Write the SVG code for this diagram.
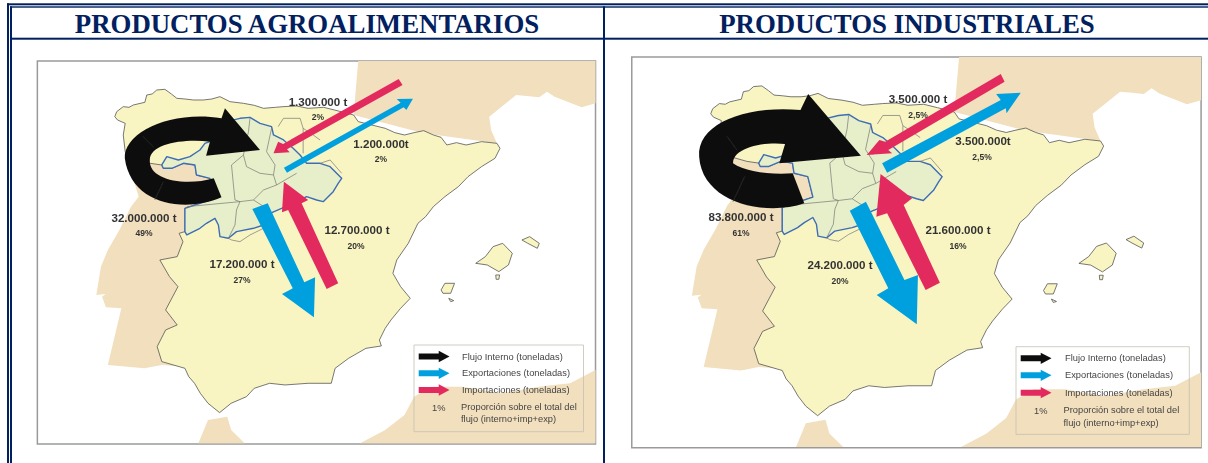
<svg xmlns="http://www.w3.org/2000/svg" width="1208" height="463" viewBox="0 0 1208 463">
<style>
.rule{fill:#002060}
.h{font:bold 26.8px "Liberation Serif",serif;fill:#002060;text-anchor:middle}
.v{font:bold 11.6px "Liberation Sans",sans-serif;fill:#333;text-anchor:middle}
.p{font:bold 8.5px "Liberation Sans",sans-serif;fill:#333;text-anchor:middle}
.l{font:9.3px "Liberation Sans",sans-serif;fill:#444}
.frame{fill:#fff;stroke:#9a9a9a;stroke-width:1.5;vector-effect:non-scaling-stroke}
.sea{fill:#f2dfbd}
.land{fill:#f8f5c2;stroke:#555;stroke-width:.8;vector-effect:non-scaling-stroke;stroke-linejoin:round}
.cyl{fill:#e6efc9;stroke:#3d6db5;stroke-width:1.4;vector-effect:non-scaling-stroke;stroke-linejoin:round}
.prov{fill:none;stroke:#777;stroke-width:.7;vector-effect:non-scaling-stroke}
.seam{fill:none;stroke:#333;stroke-width:.6;vector-effect:non-scaling-stroke}
.box{fill:none;stroke:#c4c0b4;stroke-width:.8;vector-effect:non-scaling-stroke}
.k{fill:#111}.b{fill:#069fdd}.r{fill:#e32b5e}
.soft{filter:url(#soft)}
</style>
<defs>
<filter id="soft" x="-2%" y="-2%" width="104%" height="104%"><feGaussianBlur stdDeviation=".35"/></filter>
<g id="base">
<rect class="frame" x="97" y="183" width="1449" height="1149"/>
<path class="sea" d="M930,183L1546,183 1546,310 1510,322 1440,290 1420,275 1400,292 1340,285 1270,350 1275,390 1290,430 1100,400 918,345Z"/>
<path class="sea" d="M329,470L600,500 600,650 480,800 480,1100 420,1095 375,1105 280,1095 315,925 275,922 265,890 298,860 290,880 250,885 262,800 280,750 310,690 340,620 360,590Z"/>
<path class="sea" d="M515,1330L540,1260 590,1250 600,1290 635,1330Z"/>
<path class="sea" d="M935,1330L1000,1290 1050,1245 1075,1190 1120,1160 1200,1160 1300,1180 1400,1160 1480,1150 1546,1110 1546,1330Z"/>
<path class="land" d="M298,350L303,335 320,320 335,322 346,315 376,307 381,285 395,282 407,270 428,268 445,282 459,295 480,297 502,300 528,300 550,297 571,290 597,305 632,310 660,316 684,325 715,322 735,320 770,318 800,325 840,322 875,332 918,345 930,365 965,375 1000,385 1025,398 1050,405 1075,398 1100,392 1125,405 1145,412 1160,435 1185,428 1210,435 1250,425 1290,430 1298,445 1285,475 1250,500 1215,530 1190,560 1155,590 1125,620 1105,650 1085,670 1060,730 1030,780 1020,820 1040,860 1065,895 1040,925 1015,960 1000,985 985,1020 990,1038 950,1045 905,1075 870,1105 860,1150 800,1150 740,1155 700,1150 660,1165 640,1190 600,1210 570,1238 540,1210 520,1180 505,1150 490,1130 480,1105 420,1085 408,1040 430,990 460,975 430,930 462,860 440,830 415,780 460,770 475,725 465,700 480,695 480,625 558,595 545,535 510,525 506,495 476,490 446,505 424,505 420,495 390,490 329,470 325,455 320,405 325,370 305,360Z"/>
<path class="cyl" d="M623,355L649,352 675,370 705,380 710,405 736,420 761,445 779,465 796,490 831,490 857,500 887,535 878,550 865,575 839,605 822,600 796,590 731,625 701,640 684,675 658,685 614,695 593,715 571,710 567,675 558,655 536,670 519,685 485,705 480,695 480,625 558,595 545,535 510,525 506,495 476,490 446,505 424,505 420,495 433,470 463,480 493,470 519,450 532,430 545,425 588,365Z"/>
<path class="prov" d="M649,355L645,395 632,465 601,495 606,555 610,600 623,605 614,630 610,675 593,715M632,465L640,500 675,520 710,525 718,555 684,570 658,600 623,605 485,620M658,600L692,625M705,385L692,455 714,495 710,525M722,380L736,355 779,355 787,385 813,405 831,420M787,385L787,460M770,520L718,555M831,490L857,480 887,520M601,720L623,725 649,705 684,685M593,715L601,720"/>
<path class="land" d="M1235,790L1260,770 1280,740 1305,730 1330,760 1320,795 1295,815 1265,795Z"/>
<path class="land" d="M1355,720L1375,710 1400,730 1395,745 1370,730Z"/>
<path class="land" d="M1145,870L1155,850 1180,850 1170,880 1150,880Z"/>
<path class="land" d="M1165,895L1178,902 1170,905Z"/>
<path class="land" d="M1287,825L1297,825 1295,838 1288,838Z"/>
</g>
<path id="legArrow" d="M0,-9L52,-9 52,-17 80,0 52,17 52,9 0,9Z"/>
</defs>

<g id="table">
<rect class="rule" x="7" y="3.300" width="1201" height="2"/>
<rect class="rule" x="10" y="6.300" width="1198" height="1.400"/>
<rect class="rule" x="7" y="3.300" width="2" height="459.700"/>
<rect class="rule" x="10" y="6.300" width="2" height="456.700"/>
<rect class="rule" x="10" y="37.700" width="1198" height="2"/>
<rect class="rule" x="603" y="6.300" width="2" height="456.700"/>
</g>
<text id="title-left" class="h" x="307" y="33">PRODUCTOS AGROALIMENTARIOS</text>
<text id="title-right" class="h" x="907" y="33">PRODUCTOS INDUSTRIALES</text>

<g class="soft">
<g id="map-left" transform="scale(.3852 .3333)"><use href="#base"/></g>
<g id="map-right" transform="matrix(.3929 0 0 .34 593.66 -5.22)"><use href="#base"/></g>

<g id="connectors">
<g id="flows-left" transform="scale(.3852 .3333)">
<path class="r" d="M1035,237L1045,255 745,448 752,457 710,460 722,425 735,432Z"/>
<path class="b" d="M737,503L745,518 1048,322 1055,330 1072,296 1030,297 1040,308Z"/>
<path class="r" d="M737,545L800,600 783,610 878,850 848,867 748,630 732,637Z"/>
<path class="b" d="M655,627L695,610 790,847 818,832 815,952 732,882 760,865Z"/>
<path class="k" d="M575,592C480,640 340,615 324,475C320,400 440,330 575,355L584,325 675,450 535,467 545,425C480,415 389,430 389,480C385,540 480,560 555,535Z"/>
<path class="seam" d="M372,410L398,440M424,545L402,600"/>
</g>
<g id="flows-right" transform="translate(604 0) scale(.3852 .3333)">
<path class="r" d="M1030,222L1040,245 738,450 748,460 682,465 715,420 730,425Z"/>
<path class="b" d="M722,490L735,518 1043,325 1045,340 1082,278 1018,282 1030,300Z"/>
<path class="r" d="M718,522L800,595 778,615 872,848 835,870 735,640 707,650Z"/>
<path class="b" d="M638,632L680,605 780,840 815,825 812,973 708,885 738,865Z"/>
<path class="k" d="M520,610C420,650 255,610 247,470C240,370 370,315 510,330L530,282 667,467 455,490 470,432C420,425 335,440 335,490C365,515 430,525 490,520Z"/>
<path class="seam" d="M320,410L345,450M365,530L335,605"/>
</g>
</g>

<g id="labels-left">
<text class="v" x="318" y="106">1.300.000 t</text><text class="p" x="318" y="120">2%</text>
<text class="v" x="381" y="148">1.200.000t</text><text class="p" x="381" y="162">2%</text>
<text class="v" x="357" y="234">12.700.000 t</text><text class="p" x="356" y="249">20%</text>
<text class="v" x="144" y="222">32.000.000 t</text><text class="p" x="144" y="236">49%</text>
<text class="v" x="242" y="268">17.200.000 t</text><text class="p" x="242" y="283">27%</text>
</g>
<g id="labels-right">
<text class="v" x="918" y="103">3.500.000 t</text><text class="p" x="918" y="118">2,5%</text>
<text class="v" x="983" y="145">3.500.000t</text><text class="p" x="982" y="160">2,5%</text>
<text class="v" x="958" y="234">21.600.000 t</text><text class="p" x="958" y="249">16%</text>
<text class="v" x="741" y="221">83.800.000 t</text><text class="p" x="741" y="236">61%</text>
<text class="v" x="840" y="269">24.200.000 t</text><text class="p" x="840" y="284">20%</text>
</g>

<g id="legend-left">
<rect class="box" x="414" y="345" width="169.500" height="86.700"/>
<use href="#legArrow" class="k" transform="translate(418.700 356.500) scale(.3852 .3333)"/>
<use href="#legArrow" class="b" transform="translate(418.700 373.300) scale(.3852 .3333)"/>
<use href="#legArrow" class="r" transform="translate(418.700 390) scale(.3852 .3333)"/>
<text class="l" x="462" y="359.500">Flujo Interno (toneladas)</text>
<text class="l" x="462" y="375.500">Exportaciones (toneladas)</text>
<text class="l" x="462" y="393">Importaciones (toneladas)</text>
<text class="l" x="432" y="411">1%</text>
<text class="l" x="461" y="410">Proporción sobre el total del</text>
<text class="l" x="461" y="422">flujo (interno+imp+exp)</text>
</g>
<g id="legend-right">
<rect class="box" x="1016" y="346.700" width="173.300" height="87.700"/>
<use href="#legArrow" class="k" transform="translate(1020.700 358.300) scale(.3852 .3333)"/>
<use href="#legArrow" class="b" transform="translate(1020.700 375.300) scale(.3852 .3333)"/>
<use href="#legArrow" class="r" transform="translate(1020.700 392.700) scale(.3852 .3333)"/>
<text class="l" x="1065" y="361">Flujo Interno (toneladas)</text>
<text class="l" x="1065" y="378">Exportaciones (toneladas)</text>
<text class="l" x="1065" y="396">Importaciones (toneladas)</text>
<text class="l" x="1034" y="414">1%</text>
<text class="l" x="1063.500" y="412.500">Proporción sobre el total del</text>
<text class="l" x="1063.500" y="426">flujo (interno+imp+exp)</text>
</g>
</g>
</svg>
